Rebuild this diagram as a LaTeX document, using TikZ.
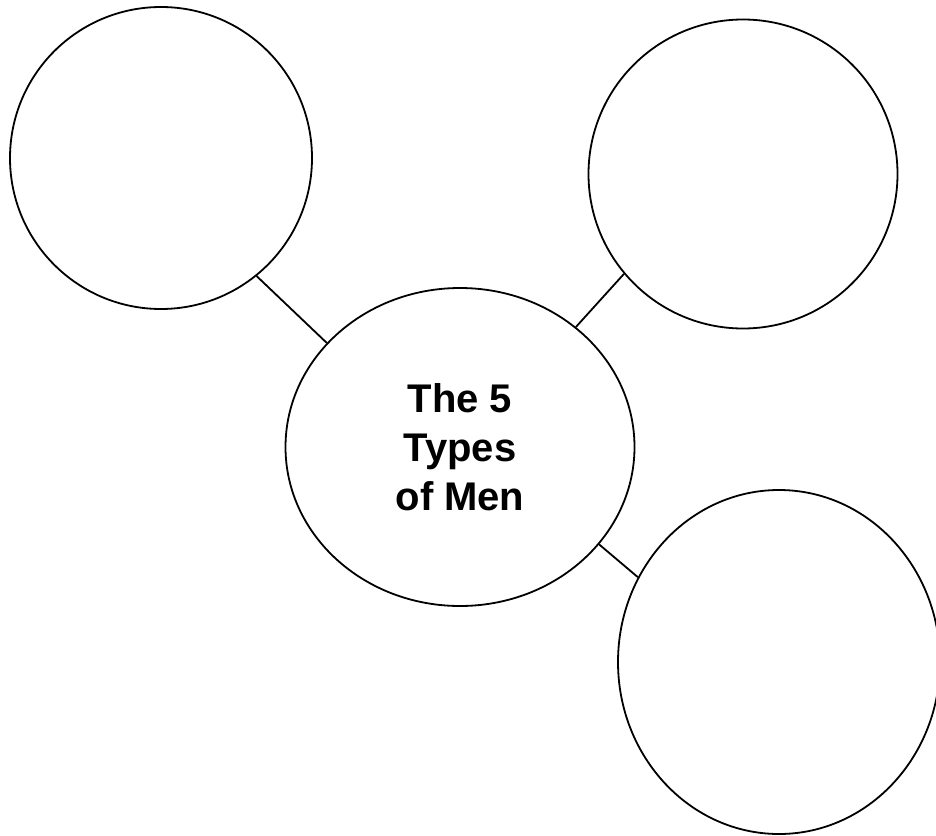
\documentclass[tikz,border=0pt]{standalone}
\usepackage{fontspec}
\setmainfont{Liberation Sans}
\usetikzlibrary{shapes.geometric}

\begin{document}
\begin{tikzpicture}[x=1pt,y=-1pt,line width=1.8pt,
   bubble/.style={draw,ellipse,inner sep=0pt},
   hub/.style={bubble,font=\fontsize{40}{49}\selectfont\bfseries,align=center}]
  \useasboundingbox (0,0) rectangle (936,835);
  \node[hub,minimum width=349pt,minimum height=318pt] (men) at (460,447) {The 5\\Types\\of Men};
  \node[bubble,minimum width=302pt,minimum height=302pt] (tl) at (161,158) {};
  \node[bubble,minimum width=309pt,minimum height=309pt] (tr) at (743,174) {};
  \node[bubble,minimum width=322pt,minimum height=344pt] (br) at (779,662) {};
  \foreach \a/\b in {142/tl.-51,46/tr.220,-35/br.149}{\draw (men.\a) -- (\b);}
\end{tikzpicture}
\end{document}
